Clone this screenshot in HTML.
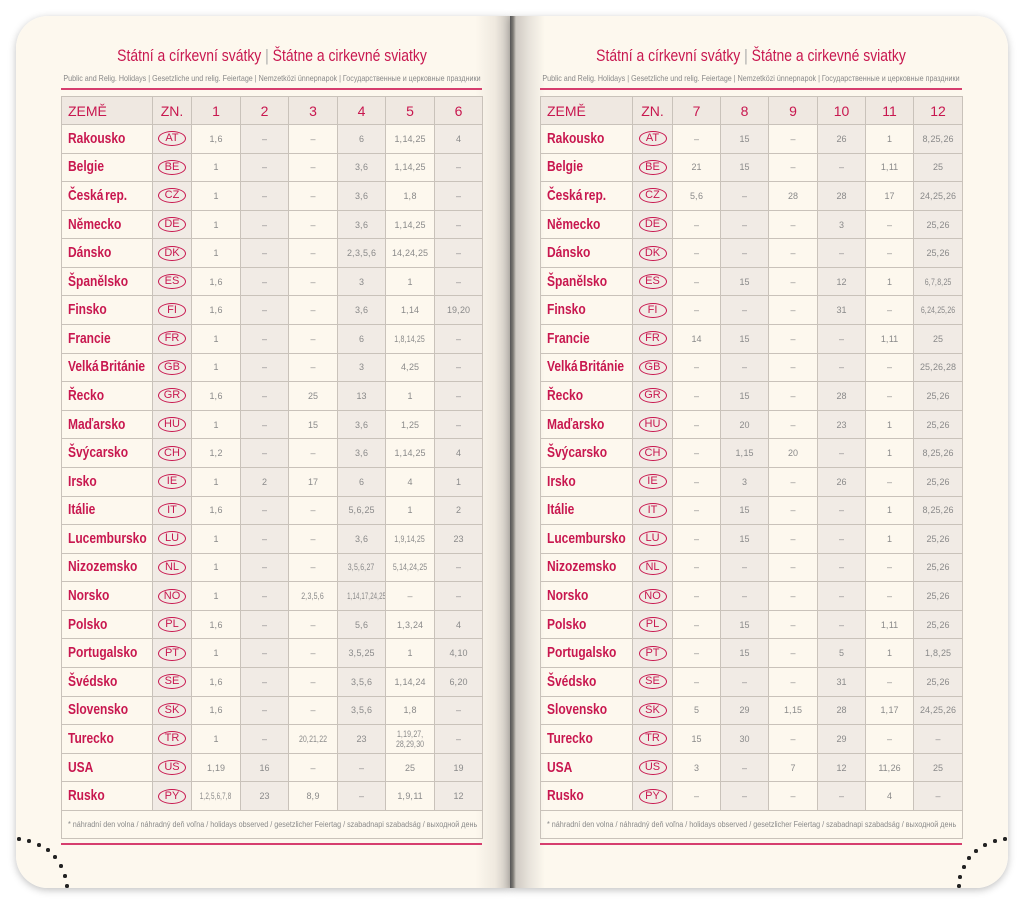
<!DOCTYPE html>
<html><head><meta charset="utf-8">
<style>
html,body{margin:0;padding:0;background:#fff;}
body{width:1024px;height:905px;position:relative;overflow:hidden;font-family:"Liberation Sans Narrow","Liberation Sans",sans-serif;}
.page{position:absolute;top:16px;height:872px;background:#fdf8ee;box-shadow:0 2px 8px rgba(0,0,0,0.25);}
#lp{left:16px;width:494px;border-radius:32px 0 0 32px;background:linear-gradient(to right,#fdf8ee 0,#fdf8ee 93%,#efe9df 97%,#c9c4bd 100%);}
#rp{left:510px;width:498px;border-radius:0 32px 32px 0;background:linear-gradient(to right,#555 0,#7a7772 0.6%,#cfcac3 1.2%,#e9e4dc 4%,#fdf8ee 7%,#fdf8ee 100%);}
.title{position:absolute;color:#c8174f;font-size:17px;white-space:nowrap;transform:translateX(-50%) scaleX(0.82);}
.title span{color:#aaa;}
.sub{position:absolute;color:#888;font-size:8.6px;white-space:nowrap;transform:translateX(-50%) scaleX(0.83);}
.line{position:absolute;height:2px;background:#d63e6e;}
table{position:absolute;border-collapse:collapse;table-layout:fixed;}
tr{height:28.58px;}
td{border:1.5px solid #c9c2ba;padding:0;text-align:center;vertical-align:middle;color:#8a8a8a;font-size:9px;line-height:10px;white-space:nowrap;word-spacing:-2px;overflow:hidden;}
tr.h{height:28px;}
tr.h td{background:#efe8e1;color:#c8174f;font-size:14px;word-spacing:0;}
tr.h td:first-child{text-align:left;padding-left:6px;}
td.c{text-align:left;padding-left:6px;color:#c8174f;font-size:15px;}
td.c b{display:inline-block;transform:scaleX(0.8);transform-origin:left center;font-weight:600;}
td.s{background:#f1ebe5;}
td.b{background:#f1ebe5;}
td i{font-style:normal;display:inline-block;transform:scaleX(0.78);}
.bd{display:inline-block;border:1.6px solid #c8174f;border-radius:50%;color:#c8174f;font-size:11px;width:26px;height:13px;line-height:13px;font-family:"Liberation Sans",sans-serif;word-spacing:0;}
td.f{text-align:left;padding-left:6px;font-size:8px;color:#8a8a8a;word-spacing:0;}
td.f span{display:inline-block;transform:scaleX(0.9);transform-origin:left center;}
.dot{position:absolute;width:3.5px;height:3.5px;border-radius:50%;background:#222;}
</style></head><body>
<div class="page" id="lp"></div>
<div class="page" id="rp"></div>

<div class="title" style="left:271.5px;top:46px;">Státní a církevní svátky <span>|</span> Štátne a cirkevné sviatky</div>
<div class="sub" style="left:271.5px;top:73px;">Public and Relig. Holidays | Gesetzliche und relig. Feiertage | Nemzetközi ünnepnapok | Государственные и церковные праздники</div>
<div class="line" style="left:61px;width:421px;top:88px;"></div>

<div class="title" style="left:751px;top:46px;">Státní a církevní svátky <span>|</span> Štátne a cirkevné sviatky</div>
<div class="sub" style="left:751px;top:73px;">Public and Relig. Holidays | Gesetzliche und relig. Feiertage | Nemzetközi ünnepnapok | Государственные и церковные праздники</div>
<div class="line" style="left:540px;width:422px;top:88px;"></div>

<table style="left:61px;top:96px;width:421px;">
<colgroup><col style="width:91px"><col style="width:39px"><col style="width:49px"><col style="width:48px"><col style="width:49px"><col style="width:48px"><col style="width:49px"><col style="width:48px"></colgroup>
<tr class="h"><td>ZEMĚ</td><td>ZN.</td><td>1</td><td>2</td><td>3</td><td>4</td><td>5</td><td>6</td></tr>
<tr><td class="c"><b>Rakousko</b></td><td class="b"><span class="bd">AT</span></td><td>1, 6</td><td class="s">–</td><td>–</td><td class="s">6</td><td>1, 14, 25</td><td class="s">4</td></tr>
<tr><td class="c"><b>Belgie</b></td><td class="b"><span class="bd">BE</span></td><td>1</td><td class="s">–</td><td>–</td><td class="s">3, 6</td><td>1, 14, 25</td><td class="s">–</td></tr>
<tr><td class="c"><b>Česká rep.</b></td><td class="b"><span class="bd">CZ</span></td><td>1</td><td class="s">–</td><td>–</td><td class="s">3, 6</td><td>1, 8</td><td class="s">–</td></tr>
<tr><td class="c"><b>Německo</b></td><td class="b"><span class="bd">DE</span></td><td>1</td><td class="s">–</td><td>–</td><td class="s">3, 6</td><td>1, 14, 25</td><td class="s">–</td></tr>
<tr><td class="c"><b>Dánsko</b></td><td class="b"><span class="bd">DK</span></td><td>1</td><td class="s">–</td><td>–</td><td class="s">2, 3, 5, 6</td><td>14, 24, 25</td><td class="s">–</td></tr>
<tr><td class="c"><b>Španělsko</b></td><td class="b"><span class="bd">ES</span></td><td>1, 6</td><td class="s">–</td><td>–</td><td class="s">3</td><td>1</td><td class="s">–</td></tr>
<tr><td class="c"><b>Finsko</b></td><td class="b"><span class="bd">FI</span></td><td>1, 6</td><td class="s">–</td><td>–</td><td class="s">3, 6</td><td>1, 14</td><td class="s">19, 20</td></tr>
<tr><td class="c"><b>Francie</b></td><td class="b"><span class="bd">FR</span></td><td>1</td><td class="s">–</td><td>–</td><td class="s">6</td><td><i>1, 8, 14, 25</i></td><td class="s">–</td></tr>
<tr><td class="c"><b>Velká Británie</b></td><td class="b"><span class="bd">GB</span></td><td>1</td><td class="s">–</td><td>–</td><td class="s">3</td><td>4, 25</td><td class="s">–</td></tr>
<tr><td class="c"><b>Řecko</b></td><td class="b"><span class="bd">GR</span></td><td>1, 6</td><td class="s">–</td><td>25</td><td class="s">13</td><td>1</td><td class="s">–</td></tr>
<tr><td class="c"><b>Maďarsko</b></td><td class="b"><span class="bd">HU</span></td><td>1</td><td class="s">–</td><td>15</td><td class="s">3, 6</td><td>1, 25</td><td class="s">–</td></tr>
<tr><td class="c"><b>Švýcarsko</b></td><td class="b"><span class="bd">CH</span></td><td>1, 2</td><td class="s">–</td><td>–</td><td class="s">3, 6</td><td>1, 14, 25</td><td class="s">4</td></tr>
<tr><td class="c"><b>Irsko</b></td><td class="b"><span class="bd">IE</span></td><td>1</td><td class="s">2</td><td>17</td><td class="s">6</td><td>4</td><td class="s">1</td></tr>
<tr><td class="c"><b>Itálie</b></td><td class="b"><span class="bd">IT</span></td><td>1, 6</td><td class="s">–</td><td>–</td><td class="s">5, 6, 25</td><td>1</td><td class="s">2</td></tr>
<tr><td class="c"><b>Lucembursko</b></td><td class="b"><span class="bd">LU</span></td><td>1</td><td class="s">–</td><td>–</td><td class="s">3, 6</td><td><i>1, 9, 14, 25</i></td><td class="s">23</td></tr>
<tr><td class="c"><b>Nizozemsko</b></td><td class="b"><span class="bd">NL</span></td><td>1</td><td class="s">–</td><td>–</td><td class="s"><i>3, 5, 6, 27</i></td><td><i>5, 14, 24, 25</i></td><td class="s">–</td></tr>
<tr><td class="c"><b>Norsko</b></td><td class="b"><span class="bd">NO</span></td><td>1</td><td class="s">–</td><td><i>2, 3, 5, 6</i></td><td class="s"><i style="transform:scaleX(0.68)">1, 14, 17, 24, 25</i></td><td>–</td><td class="s">–</td></tr>
<tr><td class="c"><b>Polsko</b></td><td class="b"><span class="bd">PL</span></td><td>1, 6</td><td class="s">–</td><td>–</td><td class="s">5, 6</td><td>1, 3, 24</td><td class="s">4</td></tr>
<tr><td class="c"><b>Portugalsko</b></td><td class="b"><span class="bd">PT</span></td><td>1</td><td class="s">–</td><td>–</td><td class="s">3, 5, 25</td><td>1</td><td class="s">4, 10</td></tr>
<tr><td class="c"><b>Švédsko</b></td><td class="b"><span class="bd">SE</span></td><td>1, 6</td><td class="s">–</td><td>–</td><td class="s">3, 5, 6</td><td>1, 14, 24</td><td class="s">6, 20</td></tr>
<tr><td class="c"><b>Slovensko</b></td><td class="b"><span class="bd">SK</span></td><td>1, 6</td><td class="s">–</td><td>–</td><td class="s">3, 5, 6</td><td>1, 8</td><td class="s">–</td></tr>
<tr><td class="c"><b>Turecko</b></td><td class="b"><span class="bd">TR</span></td><td>1</td><td class="s">–</td><td><i>20, 21, 22</i></td><td class="s">23</td><td><i>1, 19, 27,<br>28, 29, 30</i></td><td class="s">–</td></tr>
<tr><td class="c"><b>USA</b></td><td class="b"><span class="bd">US</span></td><td>1, 19</td><td class="s">16</td><td>–</td><td class="s">–</td><td>25</td><td class="s">19</td></tr>
<tr><td class="c"><b>Rusko</b></td><td class="b"><span class="bd">PY</span></td><td><i style="transform:scaleX(0.7)">1, 2, 5, 6, 7, 8</i></td><td class="s">23</td><td>8, 9</td><td class="s">–</td><td>1, 9, 11</td><td class="s">12</td></tr>
<tr><td class="f" colspan="8"><span>* náhradní den volna / náhradný deň voľna / holidays observed / gesetzlicher Feiertag / szabadnapi szabadság / выходной день</span></td></tr>
</table>

<table style="left:540px;top:96px;width:422px;">
<colgroup><col style="width:92px"><col style="width:40px"><col style="width:48px"><col style="width:48px"><col style="width:49px"><col style="width:48px"><col style="width:48px"><col style="width:49px"></colgroup>
<tr class="h"><td>ZEMĚ</td><td>ZN.</td><td>7</td><td>8</td><td>9</td><td>10</td><td>11</td><td>12</td></tr>
<tr><td class="c"><b>Rakousko</b></td><td class="b"><span class="bd">AT</span></td><td>–</td><td class="s">15</td><td>–</td><td class="s">26</td><td>1</td><td class="s">8, 25, 26</td></tr>
<tr><td class="c"><b>Belgie</b></td><td class="b"><span class="bd">BE</span></td><td>21</td><td class="s">15</td><td>–</td><td class="s">–</td><td>1, 11</td><td class="s">25</td></tr>
<tr><td class="c"><b>Česká rep.</b></td><td class="b"><span class="bd">CZ</span></td><td>5, 6</td><td class="s">–</td><td>28</td><td class="s">28</td><td>17</td><td class="s">24, 25, 26</td></tr>
<tr><td class="c"><b>Německo</b></td><td class="b"><span class="bd">DE</span></td><td>–</td><td class="s">–</td><td>–</td><td class="s">3</td><td>–</td><td class="s">25, 26</td></tr>
<tr><td class="c"><b>Dánsko</b></td><td class="b"><span class="bd">DK</span></td><td>–</td><td class="s">–</td><td>–</td><td class="s">–</td><td>–</td><td class="s">25, 26</td></tr>
<tr><td class="c"><b>Španělsko</b></td><td class="b"><span class="bd">ES</span></td><td>–</td><td class="s">15</td><td>–</td><td class="s">12</td><td>1</td><td class="s"><i>6, 7, 8, 25</i></td></tr>
<tr><td class="c"><b>Finsko</b></td><td class="b"><span class="bd">FI</span></td><td>–</td><td class="s">–</td><td>–</td><td class="s">31</td><td>–</td><td class="s"><i>6, 24, 25, 26</i></td></tr>
<tr><td class="c"><b>Francie</b></td><td class="b"><span class="bd">FR</span></td><td>14</td><td class="s">15</td><td>–</td><td class="s">–</td><td>1, 11</td><td class="s">25</td></tr>
<tr><td class="c"><b>Velká Británie</b></td><td class="b"><span class="bd">GB</span></td><td>–</td><td class="s">–</td><td>–</td><td class="s">–</td><td>–</td><td class="s">25, 26, 28</td></tr>
<tr><td class="c"><b>Řecko</b></td><td class="b"><span class="bd">GR</span></td><td>–</td><td class="s">15</td><td>–</td><td class="s">28</td><td>–</td><td class="s">25, 26</td></tr>
<tr><td class="c"><b>Maďarsko</b></td><td class="b"><span class="bd">HU</span></td><td>–</td><td class="s">20</td><td>–</td><td class="s">23</td><td>1</td><td class="s">25, 26</td></tr>
<tr><td class="c"><b>Švýcarsko</b></td><td class="b"><span class="bd">CH</span></td><td>–</td><td class="s">1, 15</td><td>20</td><td class="s">–</td><td>1</td><td class="s">8, 25, 26</td></tr>
<tr><td class="c"><b>Irsko</b></td><td class="b"><span class="bd">IE</span></td><td>–</td><td class="s">3</td><td>–</td><td class="s">26</td><td>–</td><td class="s">25, 26</td></tr>
<tr><td class="c"><b>Itálie</b></td><td class="b"><span class="bd">IT</span></td><td>–</td><td class="s">15</td><td>–</td><td class="s">–</td><td>1</td><td class="s">8, 25, 26</td></tr>
<tr><td class="c"><b>Lucembursko</b></td><td class="b"><span class="bd">LU</span></td><td>–</td><td class="s">15</td><td>–</td><td class="s">–</td><td>1</td><td class="s">25, 26</td></tr>
<tr><td class="c"><b>Nizozemsko</b></td><td class="b"><span class="bd">NL</span></td><td>–</td><td class="s">–</td><td>–</td><td class="s">–</td><td>–</td><td class="s">25, 26</td></tr>
<tr><td class="c"><b>Norsko</b></td><td class="b"><span class="bd">NO</span></td><td>–</td><td class="s">–</td><td>–</td><td class="s">–</td><td>–</td><td class="s">25, 26</td></tr>
<tr><td class="c"><b>Polsko</b></td><td class="b"><span class="bd">PL</span></td><td>–</td><td class="s">15</td><td>–</td><td class="s">–</td><td>1, 11</td><td class="s">25, 26</td></tr>
<tr><td class="c"><b>Portugalsko</b></td><td class="b"><span class="bd">PT</span></td><td>–</td><td class="s">15</td><td>–</td><td class="s">5</td><td>1</td><td class="s">1, 8, 25</td></tr>
<tr><td class="c"><b>Švédsko</b></td><td class="b"><span class="bd">SE</span></td><td>–</td><td class="s">–</td><td>–</td><td class="s">31</td><td>–</td><td class="s">25, 26</td></tr>
<tr><td class="c"><b>Slovensko</b></td><td class="b"><span class="bd">SK</span></td><td>5</td><td class="s">29</td><td>1, 15</td><td class="s">28</td><td>1, 17</td><td class="s">24, 25, 26</td></tr>
<tr><td class="c"><b>Turecko</b></td><td class="b"><span class="bd">TR</span></td><td>15</td><td class="s">30</td><td>–</td><td class="s">29</td><td>–</td><td class="s">–</td></tr>
<tr><td class="c"><b>USA</b></td><td class="b"><span class="bd">US</span></td><td>3</td><td class="s">–</td><td>7</td><td class="s">12</td><td>11, 26</td><td class="s">25</td></tr>
<tr><td class="c"><b>Rusko</b></td><td class="b"><span class="bd">PY</span></td><td>–</td><td class="s">–</td><td>–</td><td class="s">–</td><td>4</td><td class="s">–</td></tr>
<tr><td class="f" colspan="8"><span>* náhradní den volna / náhradný deň voľna / holidays observed / gesetzlicher Feiertag / szabadnapi szabadság / выходной день</span></td></tr>
</table>

<div class="line" style="left:61px;width:421px;top:843px;"></div>
<div class="line" style="left:540px;width:422px;top:843px;"></div>

<div class="dot" style="left:17px;top:837px"></div>
<div class="dot" style="left:27px;top:839px"></div>
<div class="dot" style="left:37px;top:843px"></div>
<div class="dot" style="left:46px;top:848px"></div>
<div class="dot" style="left:53px;top:855px"></div>
<div class="dot" style="left:59px;top:864px"></div>
<div class="dot" style="left:63px;top:874px"></div>
<div class="dot" style="left:65px;top:884px"></div>

<div class="dot" style="left:1003px;top:837px"></div>
<div class="dot" style="left:993px;top:839px"></div>
<div class="dot" style="left:983px;top:843px"></div>
<div class="dot" style="left:974px;top:849px"></div>
<div class="dot" style="left:967px;top:856px"></div>
<div class="dot" style="left:962px;top:865px"></div>
<div class="dot" style="left:958px;top:875px"></div>
<div class="dot" style="left:957px;top:884px"></div>
</body></html>
